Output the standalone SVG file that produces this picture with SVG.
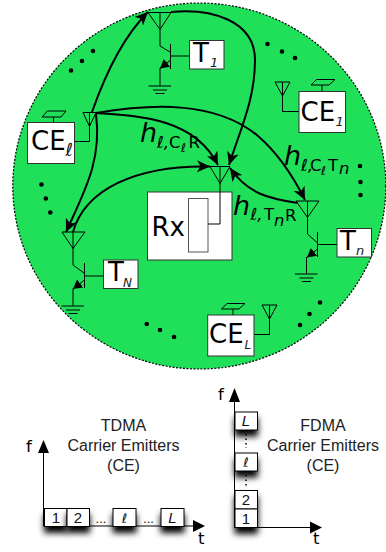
<svg xmlns="http://www.w3.org/2000/svg" width="386" height="552" viewBox="0 0 386 552">
<style>
.t{fill:none;stroke:#000;stroke-width:1}
.box{fill:#fff;stroke:#333;stroke-width:1}
.c{fill:none;stroke:#000;stroke-width:2}
.big{font-family:"DejaVu Sans",sans-serif;font-size:26px;fill:#000}
.sub{font-family:"DejaVu Sans",sans-serif;font-style:italic;font-size:13px;fill:#222}
.h{font-family:"DejaVu Sans",sans-serif;font-style:italic;font-size:27px;fill:#000}
.s{font-family:"DejaVu Sans",sans-serif;font-size:16.500px;fill:#000}
.si{font-family:"DejaVu Sans",sans-serif;font-style:italic;font-size:16.500px;fill:#000}
.ss{font-family:"DejaVu Sans",sans-serif;font-style:italic;font-size:12px;fill:#000}
.lab{font-family:"Liberation Sans",Arial,sans-serif;font-size:16px;fill:#222;text-anchor:middle}
.n{font-family:"Liberation Sans",Arial,sans-serif;font-size:15px;fill:#111;text-anchor:middle}
.ax{font-family:"DejaVu Sans",sans-serif;font-size:16.500px;fill:#000}
.sb{fill:#fff;stroke:#000;stroke-width:1;filter:url(#sh)}
.dot{fill:#000}
</style>
<defs>
<marker id="a" markerUnits="userSpaceOnUse" markerWidth="14" markerHeight="12" refX="13" refY="6" orient="auto"><path d="M0,0L13,6L0,12L3.500,6z" fill="#000"/></marker>
<marker id="b" markerUnits="userSpaceOnUse" markerWidth="14" markerHeight="12" refX="13" refY="6" orient="auto-start-reverse"><path d="M0,0L13,6L0,12L3.500,6z" fill="#000"/></marker>
<marker id="e" markerUnits="userSpaceOnUse" markerWidth="10" markerHeight="10" refX="9" refY="5" orient="auto"><path d="M0,0L9,5L0,10z" fill="#000"/></marker>
<filter id="sh" x="-50%" y="-50%" width="200%" height="240%"><feGaussianBlur in="SourceAlpha" stdDeviation="3"/><feOffset dy="6"/><feMerge><feMergeNode/><feMergeNode in="SourceGraphic"/></feMerge></filter>
<g id="gnd"><path class="t" d="M-11.500,0H11M-7,4H7M-4.500,7.500H4.500"/></g>
</defs>
<ellipse id="cell" cx="199.300" cy="186" rx="186.500" ry="183" fill="#20e05a" stroke="#000" stroke-width="1.200" stroke-dasharray="2 1.500"/>
<g id="dots">
<circle class="dot" cx="71" cy="70.500" r="2.300"/><circle class="dot" cx="82" cy="61" r="2.300"/><circle class="dot" cx="93" cy="51" r="2.300"/>
<circle class="dot" cx="41.500" cy="184.500" r="2.300"/><circle class="dot" cx="45.800" cy="198.500" r="2.300"/><circle class="dot" cx="50.300" cy="212.500" r="2.300"/>
<circle class="dot" cx="146.700" cy="324" r="2.300"/><circle class="dot" cx="160" cy="330" r="2.300"/><circle class="dot" cx="174" cy="337" r="2.300"/>
<circle class="dot" cx="267.500" cy="44" r="2.300"/><circle class="dot" cx="282" cy="51.500" r="2.300"/><circle class="dot" cx="295" cy="58" r="2.300"/>
<circle class="dot" cx="360" cy="166" r="2.300"/><circle class="dot" cx="360.500" cy="182" r="2.300"/><circle class="dot" cx="360.500" cy="195" r="2.300"/>
<circle class="dot" cx="300" cy="325" r="2.300"/><circle class="dot" cx="309.500" cy="314" r="2.300"/><circle class="dot" cx="320" cy="302.500" r="2.300"/>
</g>
<g id="node-T1">
<path class="t" d="M148,12.500H171L160,29.500L148,12.500M160,12.500V46L170,52M170.500,44V69M170.500,56H189"/>
<path class="t" d="M170.500,60L160,68.500" marker-end="url(#e)"/><path class="t" d="M160,68V86"/><use href="#gnd" x="160" y="86"/>
<rect class="box" x="189.500" y="40.500" width="34.500" height="28.500"/>
<text class="big" x="193" y="62">T</text><text class="sub" x="210" y="67">1</text>
</g>
<g id="node-CEl">
<path class="t" d="M83,112.500H96L89.500,126.500L83,112.500M89.500,112.500V141.500H74.500"/>
<path class="t" d="M42,117L47.500,111H66L61,117zM53.500,117V122"/>
<rect class="box" x="27.500" y="122.500" width="47" height="41"/>
<text class="big" x="31" y="150">CE</text><text class="sub" x="65.500" y="156" style="font-size:18px">ℓ</text>
</g>
<g id="node-CE1">
<path class="t" d="M275,82H290L282.500,96L275,82M282.500,82V111.500H299"/>
<path class="t" d="M311,85L316.500,79.500H335L329,85zM322,85V91"/>
<rect class="box" x="299" y="91.500" width="46.500" height="41"/>
<text class="big" x="300.500" y="121">CE</text><text class="sub" x="335.500" y="126">1</text>
</g>
<g id="node-Rx">
<rect class="box" x="147.500" y="192" width="84.500" height="68" stroke="#555"/>
<rect x="188.500" y="198.500" width="19.500" height="53.500" fill="#fff" stroke="#555"/>
<path class="t" d="M210,166.500H230L220,183.500L210,166.500M220,166.500V224H208"/>
<text class="big" x="151.500" y="236">Rx</text>
</g>
<g id="node-TN">
<path class="t" d="M62,232H85L73,248.500L62,232M73,232V265L84,273M84.500,263V288M84.500,276H103.500"/>
<path class="t" d="M84.500,280L73,289" marker-end="url(#e)"/><path class="t" d="M73,288.500V306"/><use href="#gnd" x="73" y="306"/>
<rect class="box" x="103.500" y="260" width="34.500" height="28.500"/>
<text class="big" x="108" y="281">T</text><text class="sub" x="123" y="287" style="font-size:12px">N</text>
</g>
<g id="node-Tn">
<path class="t" d="M296,201H319L307.500,217.500L296,201M307.500,201V234L317.500,243M317.500,232V257M317.500,244.500H337"/>
<path class="t" d="M317.500,249L307,257.500" marker-end="url(#e)"/><path class="t" d="M306.500,257V274"/><use href="#gnd" x="306.500" y="274"/>
<rect class="box" x="337" y="228.500" width="34.500" height="28.500"/>
<text class="big" x="340" y="250">T</text><text class="sub" x="356" y="255">n</text>
</g>
<g id="node-CEL">
<path class="t" d="M221.500,309L227,303.500H245L239,309zM233,309V315"/>
<path class="t" d="M262,305H277L269.500,319L262,305M269.500,305V334.500H254"/>
<rect class="box" x="207.700" y="315" width="46.300" height="41"/>
<text class="big" x="209" y="343">CE</text><text class="sub" x="244.500" y="349" style="font-size:12px">L</text>
</g>
<g id="connectors">
<path class="c" d="M92,112C105,75 122,38 148,12" marker-end="url(#a)"/>
<path class="c" d="M96,113C150,104 215,100 258,136C280,155 295,180 305,200" marker-end="url(#a)"/>
<path class="c" d="M96,113C145,116 195,120 218,165" marker-end="url(#a)"/>
<path class="c" d="M171,12C210,8 255,20 255,60C255,100 240,130 229,165" marker-end="url(#a)"/>
<path class="c" d="M96,114C102,160 85,190 66,232" marker-end="url(#a)"/>
<path class="c" d="M73,232C85,190 135,165 210,166.500" marker-end="url(#a)"/>
<path class="c" d="M298,203C270,199 248,194 230,168" marker-end="url(#b)"/>
</g>
<g id="channel-labels">
<text class="h" x="140" y="142">h</text><text class="si" x="157" y="148">ℓ,</text><text class="s" x="169" y="148">C</text><text class="ss" x="181" y="152">ℓ</text><text class="s" x="188.500" y="148">R</text>
<text class="h" x="284" y="165">h</text><text class="si" x="301" y="171">ℓ,</text><text class="s" x="310" y="171">C</text><text class="ss" x="321" y="175">ℓ</text><text class="s" x="328" y="171">T</text><text class="si" x="339" y="174">n</text>
<text class="h" x="233" y="215">h</text><text class="si" x="250.500" y="220">ℓ,</text><text class="s" x="264" y="220">T</text><text class="si" x="274" y="226">n</text><text class="s" x="285" y="221">R</text>
</g>
<g id="tdma">
<path class="t" d="M43.500,526H195" stroke-width="1.200"/><path d="M43.500,526V450" class="t" stroke-width="1.200"/>
<path d="M43.500,440L49,453H38z"/><path d="M193,520L205,526L193,532z"/>
<rect class="sb" x="44.500" y="508.500" width="22.500" height="18"/><rect class="sb" x="67" y="508.500" width="22.500" height="18"/><rect class="sb" x="113" y="508.500" width="23" height="18"/><rect class="sb" x="161" y="508.500" width="23" height="18"/>
<text class="n" x="56" y="523">1</text><text class="n" x="78" y="523">2</text><text class="n" x="124.500" y="523" style="font-family:'DejaVu Sans',sans-serif;font-style:italic;font-size:13px">ℓ</text><text class="n" x="172.500" y="523" font-style="italic">L</text>
<text class="n" x="101" y="523" style="font-size:13px">...</text><text class="n" x="148.500" y="523" style="font-size:13px">...</text>
<text class="ax" x="26" y="452">f</text><text class="ax" x="198" y="544">t</text>
<text class="lab" x="123.500" y="431">TDMA</text><text class="lab" x="123.500" y="451">Carrier Emitters</text><text class="lab" x="123.500" y="471">(CE)</text>
</g>
<g id="fdma">
<path class="t" d="M234.500,527.500H312M234.500,527.500V400"/>
<path d="M234.500,388L240,402H229z"/><path d="M310,521.500L322,527.500L310,533.500z"/>
<rect class="sb" x="235" y="453" width="22.500" height="18"/><rect class="sb" x="235" y="412" width="22.500" height="18"/><rect class="sb" x="235" y="490.500" width="22.500" height="18.500"/><rect class="sb" x="235" y="509" width="22.500" height="18.500"/>
<text class="n" x="246" y="524">1</text><text class="n" x="246" y="505">2</text><text class="n" x="246" y="467" style="font-family:'DejaVu Sans',sans-serif;font-style:italic;font-size:13px">ℓ</text><text class="n" x="246" y="426" font-style="italic">L</text>
<path d="M246,434V448M246,475V486" fill="none" stroke="#000" stroke-width="1.500" stroke-dasharray="1.500 3"/>
<text class="ax" x="218" y="400">f</text><text class="ax" x="313" y="544">t</text>
<text class="lab" x="323" y="431">FDMA</text><text class="lab" x="323" y="451">Carrier Emitters</text><text class="lab" x="323" y="471">(CE)</text>
</g>
</svg>
